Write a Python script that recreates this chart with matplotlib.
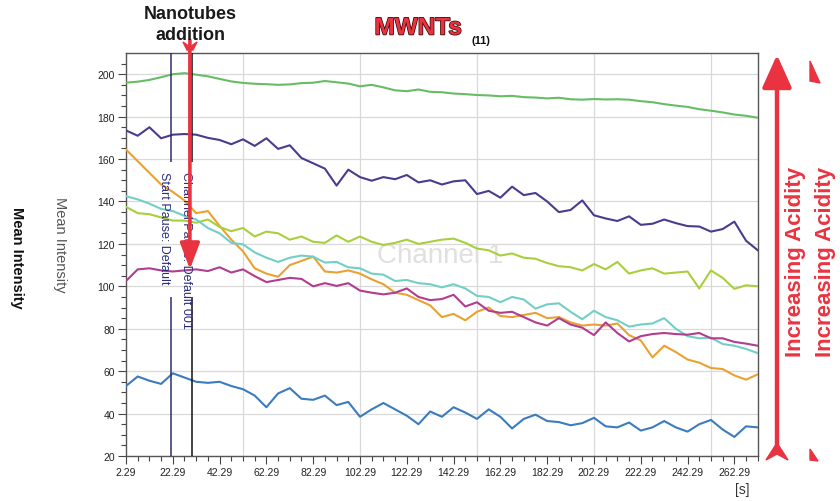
import numpy as np
import matplotlib
matplotlib.use("Agg")
import matplotlib.pyplot as plt
import matplotlib.patheffects as pe
from matplotlib.patches import Polygon, FancyArrowPatch

plt.rcParams['font.family'] = ['Liberation Sans', 'DejaVu Sans']

# sample times [s], one reading every 5 s
t = np.arange(2.29, 273, 5.0)

green = [196.0, 196.5, 197.3, 198.6, 200.0, 200.5, 199.8, 199.0, 197.8, 196.6,
         195.9, 195.5, 195.3, 195.0, 195.2, 195.8, 196.0, 196.8, 196.2, 195.6,
         194.3, 195.0, 193.8, 192.4, 192.0, 192.8, 191.7, 191.5, 190.9, 190.6,
         190.2, 190.0, 189.6, 189.8, 189.2, 189.0, 188.6, 188.9, 188.2, 188.0,
         188.3, 188.1, 188.2, 188.0, 187.3, 186.8, 185.9, 185.2, 184.6, 183.5,
         182.8, 182.0, 181.0, 180.4, 179.5]
purple = [173.5, 171.0, 175.0, 169.8, 171.5, 171.8, 171.5, 170.0, 169.0, 167.0,
          169.3, 166.2, 169.8, 164.8, 166.5, 160.5, 158.0, 155.5, 147.5, 155.0,
          151.5, 149.8, 151.5, 150.5, 152.5, 149.0, 150.0, 148.0, 149.5, 150.0,
          143.5, 145.0, 141.8, 147.0, 143.0, 144.0, 140.0, 135.0, 136.0, 140.5,
          133.5, 132.0, 130.8, 133.0, 129.0, 129.5, 131.5, 129.8, 128.4, 128.2,
          125.8, 127.0, 130.5, 121.5, 117.0]
orange = [164.5, 159.0, 153.5, 148.0, 144.5, 140.5, 134.5, 135.5, 128.5, 122.0,
          116.5, 108.5, 106.0, 104.5, 110.0, 112.0, 114.0, 107.0, 106.5, 107.5,
          106.0, 103.3, 101.0, 97.0, 96.0, 93.5, 91.0, 85.5, 87.0, 84.0,
          88.0, 90.0, 86.0, 85.5, 86.5, 87.5, 85.0, 85.5, 83.0, 81.5,
          82.0, 81.5, 82.5, 77.0, 74.5, 66.5, 72.0, 69.0, 65.5, 64.0,
          61.5, 61.0, 58.0, 56.0, 58.5]
cyan = [142.5, 141.0, 139.0, 136.5, 135.5, 133.2, 131.5, 127.5, 125.0, 120.5,
        119.8, 116.0, 113.5, 111.5, 113.5, 114.5, 114.0, 111.2, 111.5, 109.0,
        108.5, 106.0, 105.5, 102.5, 103.0, 101.5, 101.0, 99.5, 101.0, 99.0,
        95.5, 95.0, 92.5, 95.0, 93.8, 89.5, 91.5, 92.0, 88.0, 84.5,
        88.5, 85.5, 84.0, 81.0, 82.0, 82.5, 85.0, 80.0, 76.5, 75.5,
        75.8, 72.8, 72.0, 70.5, 68.5]
lime = [137.5, 134.5, 134.0, 132.5, 131.0, 131.0, 130.0, 131.5, 128.0, 126.0,
        127.5, 123.5, 125.8, 125.0, 122.0, 123.5, 121.0, 120.5, 124.0, 121.0,
        123.5, 121.0, 119.5, 120.5, 122.0, 120.0, 121.0, 122.0, 122.5, 120.5,
        117.8, 117.0, 114.5, 115.5, 113.5, 113.0, 111.0, 109.5, 109.0, 107.5,
        110.5, 108.0, 111.5, 106.0, 107.5, 108.5, 106.0, 106.5, 107.0, 99.0,
        107.5, 104.0, 98.8, 100.5, 100.0]
magenta = [102.5, 108.0, 108.5, 107.5, 107.0, 107.5, 108.0, 107.2, 109.0, 106.5,
           108.0, 104.8, 102.0, 103.0, 104.0, 103.5, 100.0, 101.5, 100.2, 101.5,
           98.0, 97.0, 96.2, 97.0, 99.0, 95.0, 93.5, 94.0, 96.0, 90.5,
           92.5, 88.5, 87.5, 88.0, 85.5, 83.0, 81.5, 85.0, 82.0, 80.5,
           77.0, 83.0, 78.0, 74.0, 76.5, 77.5, 78.0, 77.5, 77.2, 78.0,
           75.5, 75.5, 73.8, 73.0, 72.0]
blue = [53.0, 57.5, 55.5, 54.0, 59.0, 57.0, 55.0, 54.5, 55.0, 53.0,
        51.5, 48.5, 43.0, 49.5, 52.0, 47.0, 46.5, 48.5, 44.0, 45.5,
        38.5, 42.0, 45.0, 42.0, 39.0, 35.0, 41.0, 38.5, 43.0, 40.5,
        37.5, 42.0, 38.5, 33.0, 37.5, 39.5, 36.5, 36.0, 34.5, 35.5,
        38.0, 34.0, 33.5, 35.8, 32.0, 33.5, 36.5, 33.5, 31.5, 35.0,
        37.0, 32.5, 29.0, 34.0, 33.5]

# start-pause (navy) and default-pause (black) markers, nanotube addition
event_times = [21.4, 30.6]
addition_time = 29.6
addition_level = 108

series = [(green, '#66bd66'), (purple, '#4b3a8e'), (orange, '#e9a231'),
          (lime, '#a8cf3c'), (cyan, '#72cfc6'), (magenta, '#b23c8e'),
          (blue, '#3b7bbf')]

RED = '#ea3340'
W, H = 840.0, 502.0


def fpx(x, y):
    # pixel position -> figure fraction
    return (x / W, 1.0 - y / H)


fig = plt.figure(figsize=(8.4, 5.02), dpi=100)
ax = fig.add_axes([0.15, 0.0896, 0.7524, 0.8028])

ax.set_xlim(2.29, 272.4)
ax.set_ylim(20, 210)

# grid
ax.set_yticks(np.arange(20, 201, 20))
ax.set_yticks(np.arange(20, 210, 5), minor=True)
ax.set_xticks(np.arange(2.29, 263, 20))
ax.set_xticks(np.arange(2.29, 272.4, 5), minor=True)
ax.set_xticklabels(['%.2f' % v for v in np.arange(2.29, 263, 20)])
ax.yaxis.grid(True, color='#d9d9d9', lw=0.9, zorder=0)
ax.vlines(np.arange(52.29, 272, 50), 20, 210, color='#d9d9d9', lw=0.9, zorder=0)
ax.set_axisbelow(True)

ax.tick_params(which='major', direction='out', length=6, width=0.8,
               color='#444444', labelsize=7.5, labelcolor='#222222', pad=2)
ax.tick_params(which='minor', direction='out', length=3.5, width=0.8,
               color='#444444')
for s in ax.spines.values():
    s.set_color('#555555')
    s.set_linewidth(1.0)

ax.text(136.5, 115, 'Channel 1', fontsize=20, color='#e0e0e0',
        ha='center', va='center', zorder=1)

for vals, col in series:
    ax.plot(t, vals, color=col, lw=1.5, zorder=3)

# pause markers
ax.vlines(event_times, 20, 95, colors=['#2d2d6e', '#111111'], lw=1.1, zorder=4)
ax.vlines(event_times, 158.5, 210, colors=['#2d2d6e', '#111111'], lw=1.1, zorder=4)
ax.text(18.5, 154.5, 'Start Pause: Default', rotation=-90, ha='center',
        va='top', fontsize=9, color='#2b2d7a', zorder=5)
ax.text(27.9, 154.5, 'Channel Pause: Default 001', rotation=-90, ha='center',
        va='top', fontsize=9, color='#2b2d7a', zorder=5)

# nanotube addition arrow
ax.annotate('', xy=(addition_time, addition_level), xytext=(addition_time, 216),
            arrowprops=dict(arrowstyle='-|>,head_length=1.6,head_width=0.6',
                            color=RED, lw=2.6, shrinkA=0, shrinkB=0),
            annotation_clip=False, zorder=6)
fig.add_artist(Polygon([fpx(183, 43), fpx(190, 48), fpx(197, 43), fpx(193, 51),
                        fpx(187, 51)], closed=True, transform=fig.transFigure,
                       color=RED))

# titles
fig.text(*fpx(190, 25), 'Nanotubes\naddition', ha='center', va='center',
         fontsize=13, fontweight='bold', linespacing=1.3, color='#1a1a1a')
fig.text(*fpx(418, 29), 'MWNTs', ha='center', va='center', fontsize=17.5,
         fontweight='bold', color=RED,
         path_effects=[pe.withStroke(linewidth=1.1, foreground='#3a0a0a')])
fig.text(*fpx(481, 41), '(11)', ha='center', va='center', fontsize=8,
         fontweight='bold', color='#111111')

fig.text(*fpx(60, 245), 'Mean Intensity', rotation=-90, ha='center',
         va='center', fontsize=10.5, color='#555555')
fig.text(*fpx(17, 258), 'Mean Intensity', rotation=-90, ha='center',
         va='center', fontsize=10.5, fontweight='bold', color='#111111')
fig.text(*fpx(742, 490), '[s]', ha='center', va='center', fontsize=10,
         color='#333333')

# increasing acidity arrow
fig.add_artist(FancyArrowPatch(fpx(777, 452), fpx(777, 53),
                               transform=fig.transFigure,
                               arrowstyle='-|>,head_length=20,head_width=9',
                               mutation_scale=1, color=RED, lw=3.2))
fig.add_artist(Polygon([fpx(766, 461), fpx(775, 447), fpx(779, 447),
                        fpx(788, 461), fpx(777, 455)], closed=True,
                       transform=fig.transFigure, color=RED))
fig.add_artist(Polygon([fpx(810, 62), fpx(810, 82), fpx(820, 84)], closed=True,
                       transform=fig.transFigure, color=RED))
fig.add_artist(Polygon([fpx(810, 450), fpx(810, 461), fpx(818, 462)],
                       closed=True, transform=fig.transFigure, color=RED))
fig.text(*fpx(795, 262), 'Increasing Acidity', rotation=90, ha='center',
         va='center', fontsize=16, fontweight='bold', color=RED)
fig.text(*fpx(826, 262), 'Increasing Acidity', rotation=90, ha='center',
         va='center', fontsize=16, fontweight='bold', color=RED)

fig.savefig('out.png', dpi=100)
